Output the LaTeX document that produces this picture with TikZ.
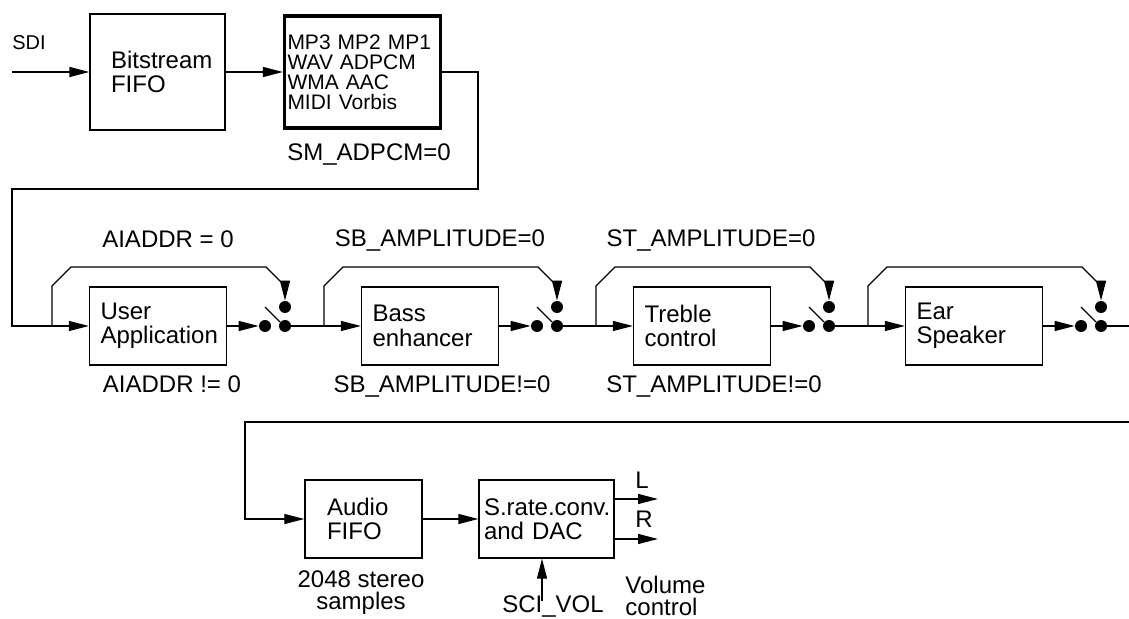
\documentclass[tikz,border=0pt]{standalone}
\usepackage{fontspec}
\setmainfont{Liberation Sans}
\usetikzlibrary{arrows.meta,calc}
\tikzstyle{block} = [rectangle, draw, line width=.65pt, text width=57.5pt, inner xsep=5.5pt,
    align=left, minimum height=39pt, font=\fontsize{12}{12.2}\selectfont, node distance=136pt]
\tikzstyle{decoder} = [rectangle, draw, line width=1.6pt, text width=75pt, inner xsep=1.5pt,
    align=left, minimum height=56pt, font=\fontsize{10.5}{10}\selectfont]
\tikzstyle{contact} = [circle, fill, inner sep=0pt, minimum size=6pt]
\tikzstyle{line} = [draw, -{Triangle[length=10pt,width=5pt]}, line width=.65pt]
\tikzstyle{wire} = [draw, line width=.65pt]
\tikzstyle{note} = [font=\fontsize{12}{11}\selectfont, inner sep=0pt, anchor=base]

\begin{document}
\begin{tikzpicture}[x=.5pt, y=-.5pt]
    \useasboundingbox (0,0) rectangle (1129,619);

    % input side
    \node [note, font=\fontsize{10}{10}\selectfont] (sdilabel) at (29,50) {SDI};
    \coordinate (sdi) at (12,72);
    \node [block, text width=46.5pt, inner xsep=10.5pt, minimum height=58pt] (bitstream) at (157.5,72) {Bitstream\\FIFO};
    \node [decoder] (decoder) at (362.5,72) {MP3 MP2 MP1\\WAV ADPCM\\WMA AAC\\MIDI Vorbis};
    \node [note] (smadpcm) at (369,161) {SM\_ADPCM=0};
    \coordinate (turn) at (478,189);
    \coordinate (back) at (12,189);

    % processing chain
    \node [block] (user) at (158,326) {User\\Application};
    \node [block, right of=user] (bass) {Bass\\enhancer};
    \node [block, right of=bass] (treble) {Treble\\control};
    \node [block, right of=treble] (ear) {Ear\\Speaker};

    \node [contact, right of=user, node distance=53.5pt] (userin) {};
    \node [contact, right of=userin, node distance=10pt] (userout) {};
    \node [contact, above of=userout, node distance=9.5pt] (usertop) {};
    \coordinate [left of=user, node distance=53pt] (userfork);
    \node [contact, right of=bass, node distance=53.5pt] (bassin) {};
    \node [contact, right of=bassin, node distance=10pt] (bassout) {};
    \node [contact, above of=bassout, node distance=9.5pt] (basstop) {};
    \coordinate [left of=bass, node distance=53pt] (bassfork);
    \node [contact, right of=treble, node distance=53.5pt] (treblein) {};
    \node [contact, right of=treblein, node distance=10pt] (trebleout) {};
    \node [contact, above of=trebleout, node distance=9.5pt] (trebletop) {};
    \coordinate [left of=treble, node distance=53pt] (treblefork);
    \node [contact, right of=ear, node distance=53.5pt] (earin) {};
    \node [contact, right of=earin, node distance=10pt] (earout) {};
    \node [contact, above of=earout, node distance=9.5pt] (eartop) {};
    \coordinate [left of=ear, node distance=53pt] (earfork);
    \coordinate (exit) at (1129,326);

    \node [note] (aiaddron) at (168,248) {AIADDR = 0};
    \node [note] (aiaddroff) at (172,393) {AIADDR != 0};
    \node [note] (sbon) at (440,247) {SB\_AMPLITUDE=0};
    \node [note] (sboff) at (442,393) {SB\_AMPLITUDE!=0};
    \node [note] (ston) at (711,247) {ST\_AMPLITUDE=0};
    \node [note] (stoff) at (714,393) {ST\_AMPLITUDE!=0};

    % output side
    \coordinate (entry) at (1129,422);
    \coordinate (drop) at (245,422);
    \node [block, text width=36.5pt, inner xsep=11pt] (audio) at (363.5,519) {Audio\\FIFO};
    \node [block, text width=62.5pt, inner xsep=2.5pt] (srate) at (546.5,519) {S.rate.conv.\\and DAC};
    \coordinate (lout) at (658,499);
    \coordinate (rout) at (658,539);
    \node [note] (llabel) at (642,488) {L};
    \node [note] (rlabel) at (644,528) {R};
    \node [note, align=center, anchor=north] (samples) at (361,570) {2048 stereo\\samples};
    \node [note] (scivol) at (553,612) {SCI\_VOL};
    \node [note, align=left, anchor=north west, font=\fontsize{12}{11}\selectfont] (volume) at (625,576) {Volume\\control};

    \path [line] (sdi) -- (bitstream);
    \path [line] (bitstream) -- (decoder);
    \path [line] (decoder.east) -| (turn) -- (back) |- (user);

    \path [line] (user) -- (userin);
    \path [line] (userfork) -- ++(0,-40) -- ++(19,-19) -- ($(usertop)+(-19,-40)$) -- ++(19,19) -- (usertop);
    \path [wire] (userin |- usertop) -- ($(userout)+(-5,-4)$);
    \path [line] (userout) -- (bass);
    \path [line] (bass) -- (bassin);
    \path [line] (bassfork) -- ++(0,-40) -- ++(19,-19) -- ($(basstop)+(-19,-40)$) -- ++(19,19) -- (basstop);
    \path [wire] (bassin |- basstop) -- ($(bassout)+(-5,-4)$);
    \path [line] (bassout) -- (treble);
    \path [line] (treble) -- (treblein);
    \path [line] (treblefork) -- ++(0,-40) -- ++(19,-19) -- ($(trebletop)+(-19,-40)$) -- ++(19,19) -- (trebletop);
    \path [wire] (treblein |- trebletop) -- ($(trebleout)+(-5,-4)$);
    \path [line] (trebleout) -- (ear);
    \path [line] (ear) -- (earin);
    \path [line] (earfork) -- ++(0,-40) -- ++(19,-19) -- ($(eartop)+(-19,-40)$) -- ++(19,19) -- (eartop);
    \path [wire] (earin |- eartop) -- ($(earout)+(-5,-4)$);
    \path [wire] (earout) -- (exit);

    \path [line] (entry) -- (drop) |- (audio);
    \path [line] (audio) -- (srate);
    \path [line] (srate.east |- lout) -- (lout);
    \path [line] (srate.east |- rout) -- (rout);
    \path [line] ([xshift=-5.5pt,yshift=-3pt]scivol.north) -- ([xshift=-5.5pt]scivol.north |- srate.south);

\end{tikzpicture}
\end{document}
